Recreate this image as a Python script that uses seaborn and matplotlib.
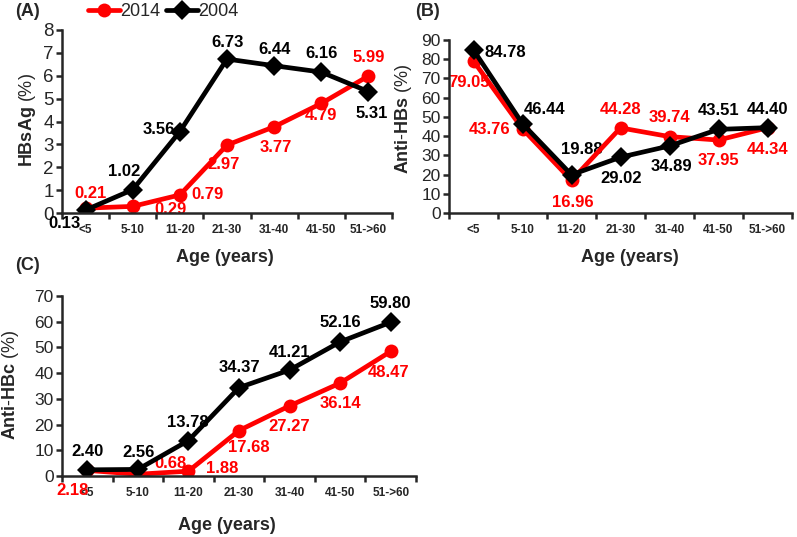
import seaborn as sns
import matplotlib.pyplot as plt
import numpy as np
import pandas as pd

# categorias de edad
edades = ['<5', '5-10', '11-20', '21-30', '31-40', '41-50', '51->60']
anios = ['2014', '2004']

hbsag_2014 = [0.21, 0.29, 0.79, 2.97, 3.77, 4.79, 5.99]
hbsag_2004 = [0.13, 1.02, 3.56, 6.73, 6.44, 6.16, 5.31]

antihbs_2014 = [79.05, 43.76, 16.96, 44.28, 39.74, 37.95, 44.34]
antihbs_2004 = [84.78, 46.44, 19.88, 29.02, 34.89, 43.51, 44.40]

antihbc_2014 = [2.18, 0.68, 1.88, 17.68, 27.27, 36.14, 48.47]
antihbc_2004 = [2.40, 2.56, 13.78, 34.37, 41.21, 52.16, 59.80]

# desplazamiento de etiquetas (pixeles)
off_a = {'2014': [(5, 15), (38, -3), (28, 0), (-3, -19), (2, -21), (0, -12), (0, 18)],
         '2004': [(-21, -13), (-9, 18), (-21, 2), (1, 17), (0, 16), (0, 19), (3, -22)]}
off_b = {'2014': [(-5, -21), (-33, -1), (1, -22), (0, 18), (0, 19), (0, -20), (0, -22)],
         '2004': [(32, -2), (22, 14), (10, 25), (1, -21), (2, -21), (0, 19), (0, 18)]}
off_c = {'2014': [(-15, -20), (33, 11), (34, 3), (10, -17), (0, -21), (0, -20), (-2, -21)],
         '2004': [(0, 18), (1, 17), (-1, 18), (0, 20), (0, 18), (0, 19), (0, 19)]}

colores = {'2014': '#ff0000', '2004': '#000000'}
marcas = {'2014': 'o', '2004': 'D'}

sns.set_style('ticks')
plt.rcParams['font.family'] = ['Liberation Sans', 'DejaVu Sans']
plt.rcParams['mathtext.fontset'] = 'custom'
plt.rcParams['mathtext.bf'] = 'Liberation Sans:bold'
plt.rcParams['mathtext.rm'] = 'Liberation Sans'


def armar_df(v2014, v2004):
    filas = []
    for anio, vals in zip(anios, [v2014, v2004]):
        for i, v in enumerate(vals):
            filas.append({'pos': i, 'valor': v, 'anio': anio})
    return pd.DataFrame(filas)


def panel(ax, v2014, v2004, offsets, ymax, ystep, tam_y=12.5):
    datos = armar_df(v2014, v2004)
    sns.lineplot(data=datos, x='pos', y='valor', hue='anio', style='anio',
                 hue_order=anios, style_order=anios, palette=colores,
                 markers=marcas, dashes=False, linewidth=3.4,
                 markersize=10, markeredgewidth=0, ax=ax)
    for anio, vals in zip(anios, [v2014, v2004]):
        for i, v in enumerate(vals):
            dx, dy = offsets[anio][i]
            ax.annotate(f'{v:.2f}', (i, v), xytext=(dx, dy),
                        textcoords='offset pixels', ha='center', va='center',
                        fontsize=12, fontweight='bold', color=colores[anio],
                        zorder=1.5)
    ax.set_xlim(-0.5, 6.5)
    ax.set_ylim(0, ymax)
    ax.set_yticks(np.arange(0, ymax + 1, ystep))
    ax.set_xticks(np.arange(-0.5, 7, 1))
    ax.set_xticklabels([])
    ax.set_xticks(range(7), minor=True)
    ax.set_xticklabels(edades, minor=True, fontsize=8.5, fontweight='bold')
    ax.tick_params(axis='x', which='major', length=4, width=1.8)
    ax.tick_params(axis='x', which='minor', length=0, pad=8)
    ax.tick_params(axis='y', length=4, width=1.8, labelsize=tam_y, pad=2)
    for lado in ['left', 'bottom']:
        ax.spines[lado].set_linewidth(1.8)
    sns.despine(ax=ax)
    ax.set_xlabel('')
    ax.set_ylabel('')
    leyenda = ax.get_legend()
    handles, labels = ax.get_legend_handles_labels()
    if leyenda:
        leyenda.remove()
    return handles, labels


fig = plt.figure(figsize=(7.97, 5.37), dpi=100)
ax_a = fig.add_axes([62 / 797, 1 - 213 / 537, 330 / 797, 183 / 537])
ax_b = fig.add_axes([449 / 797, 1 - 213 / 537, 343 / 797, 173 / 537])
ax_c = fig.add_axes([62 / 797, 1 - 476 / 537, 354 / 797, 180 / 537])

handles, labels = panel(ax_a, hbsag_2014, hbsag_2004, off_a, 8, 1, tam_y=13.5)
panel(ax_b, antihbs_2014, antihbs_2004, off_b, 90, 10)
panel(ax_c, antihbc_2014, antihbc_2004, off_c, 70, 10)

fig.legend(handles, labels, loc='center', bbox_to_anchor=(163 / 797, 1 - 12 / 537),
           ncol=2, frameon=False, fontsize=13, handlelength=1.8,
           handletextpad=0.0, columnspacing=0.3)

# etiquetas de paneles y ejes
fig.text(15 / 797, 1 - 12 / 537, '(A)', fontsize=13, fontweight='bold', va='center')
fig.text(415 / 797, 1 - 12 / 537, '(B)', fontsize=13, fontweight='bold', va='center')
fig.text(15 / 797, 1 - 265 / 537, '(C)', fontsize=13, fontweight='bold', va='center')

fig.text(225 / 797, 1 - 258 / 537, 'Age (years)', fontsize=13, fontweight='bold',
         ha='center', va='center')
fig.text(630 / 797, 1 - 258 / 537, 'Age (years)', fontsize=13, fontweight='bold',
         ha='center', va='center')
fig.text(227 / 797, 1 - 525 / 537, 'Age (years)', fontsize=13, fontweight='bold',
         ha='center', va='center')

fig.text(28 / 797, 1 - 120 / 537, r'$\mathbf{HBsAg}$ (%)', fontsize=13,
         rotation=90, ha='center', va='center')
fig.text(404 / 797, 1 - 119 / 537, r'$\mathbf{Anti}$-$\mathbf{HBs}$ (%)', fontsize=13,
         rotation=90, ha='center', va='center')
fig.text(11 / 797, 1 - 385 / 537, r'$\mathbf{Anti}$-$\mathbf{HBc}$ (%)', fontsize=13,
         rotation=90, ha='center', va='center')

fig.savefig('out.png', dpi=100)
